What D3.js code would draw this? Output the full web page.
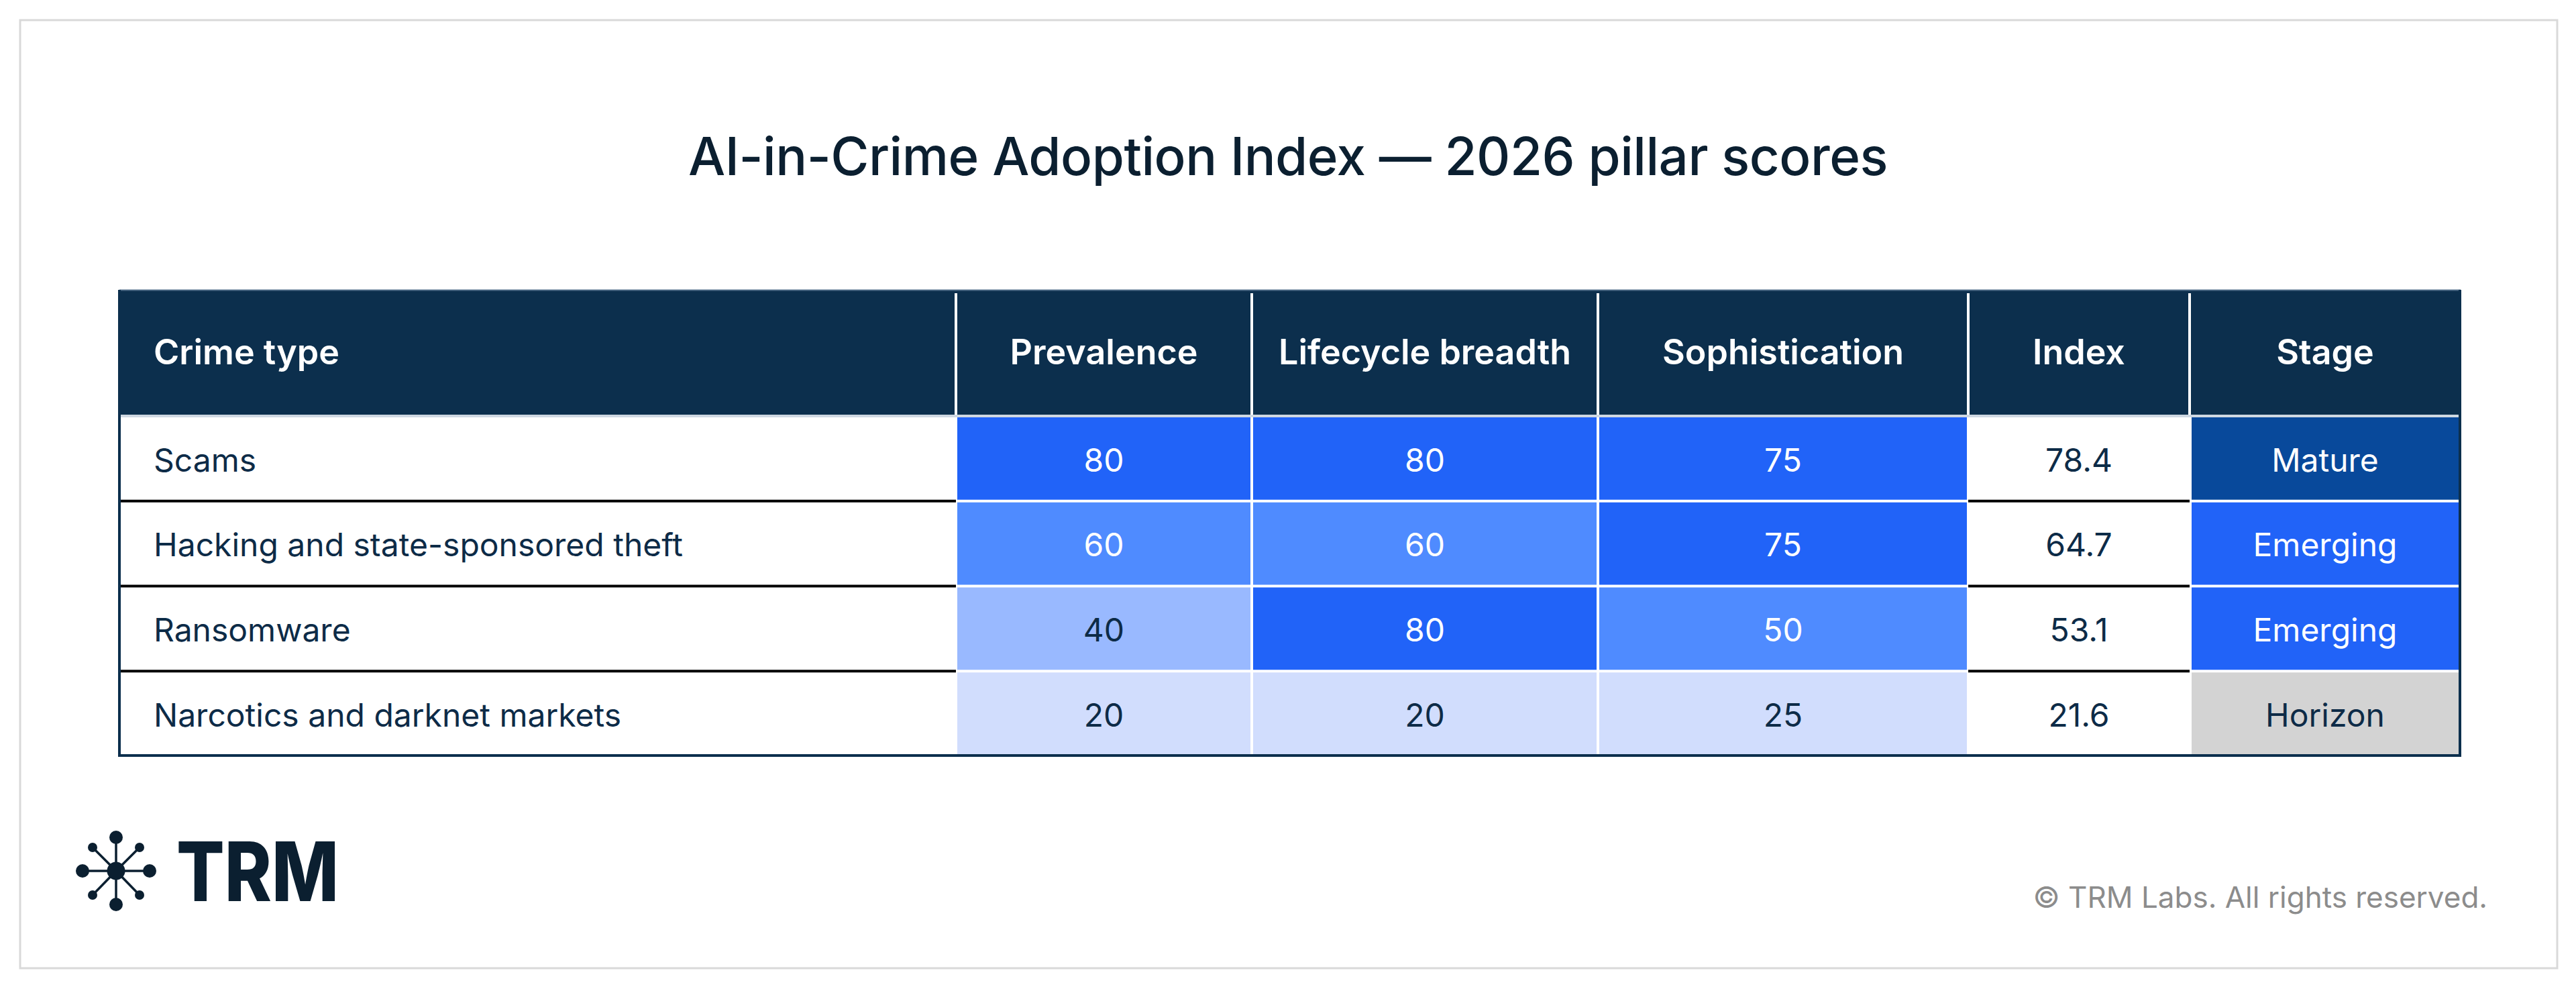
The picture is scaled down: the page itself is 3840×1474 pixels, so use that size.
<!DOCTYPE html>
<html>
<head>
<meta charset="utf-8">
<script src="https://cdn.jsdelivr.net/npm/d3@7/dist/d3.min.js"></script>
<style>
  html, body { margin: 0; padding: 0; background: #ffffff; }
  svg { display: block; }
  text { font-family: Inter, "Noto Sans", sans-serif; }
</style>
</head>
<body>
<svg id="chart" width="3840" height="1474"></svg>
<script>
// ---------------- DATA ----------------
const columns = ["Crime type", "Prevalence", "Lifecycle breadth", "Sophistication", "Index", "Stage"];
const crimeTypes = ["Scams", "Hacking and state-sponsored theft", "Ransomware", "Narcotics and darknet markets"];
const prevalence = [80, 60, 40, 20];
const lifecycleBreadth = [80, 60, 80, 20];
const sophistication = [75, 75, 50, 25];
const indexScores = [78.4, 64.7, 53.1, 21.6];
const stages = ["Mature", "Emerging", "Emerging", "Horizon"];
const stageNames = ["Mature", "Emerging", "Horizon"];

// ---------------- LAYOUT / STYLE ----------------
const W = 3840, H = 1474;
const navy = "#0c2f4d";
const textNavy = "#0d2b47";
const colEdges = [178, 1425, 1866, 2382, 2934, 3264, 3668];
const tableTop = 432, headerBottom = 620, tableBottom = 1127;

const svg = d3.select("#chart");

// outer frame
svg.append("rect")
  .attr("x", 30).attr("y", 30).attr("width", 3782).attr("height", 1413)
  .attr("fill", "#ffffff").attr("stroke", "#d9d9d9").attr("stroke-width", 3);

// title
svg.append("text")
  .attr("x", W / 2).attr("y", 261)
  .attr("text-anchor", "middle")
  .attr("font-size", 78).attr("font-weight", 500)
  .attr("fill", "#0b1f30")
  .attr("letter-spacing", -0.5)
  .text("AI-in-Crime Adoption Index — 2026 pillar scores");

// scales
const yRow = d3.scaleBand().domain(crimeTypes).range([headerBottom, tableBottom]).padding(0);
const heatColor = d3.scaleThreshold().domain([30, 50, 70])
  .range(["#d1ddfd", "#99b9ff", "#4f8bff", "#2163f8"]);
const heatText = d3.scaleThreshold().domain([50]).range([textNavy, "#ffffff"]);
const stageColor = d3.scaleOrdinal().domain(stageNames).range(["#08499b", "#2163f8", "#d3d3d3"]);
const stageText = d3.scaleOrdinal().domain(stageNames).range(["#ffffff", "#ffffff", textNavy]);

const colX = i => colEdges[i];
const colW = i => colEdges[i + 1] - colEdges[i];
const colMid = i => (colEdges[i] + colEdges[i + 1]) / 2;

// header
const g = svg.append("g");
g.append("rect")
  .attr("x", colEdges[0]).attr("y", tableTop)
  .attr("width", colEdges[6] - colEdges[0]).attr("height", headerBottom - tableTop)
  .attr("fill", navy);
g.append("line")
  .attr("x1", colEdges[0]).attr("x2", colEdges[6])
  .attr("y1", tableTop + 0.5).attr("y2", tableTop + 0.5)
  .attr("stroke", "#4d6a85").attr("stroke-width", 2);

// header separators
g.selectAll(".hsep").data(colEdges.slice(1, 6)).join("line")
  .attr("x1", d => d).attr("x2", d => d)
  .attr("y1", tableTop + 5).attr("y2", headerBottom - 2)
  .attr("stroke", "#ffffff").attr("stroke-width", 4);

g.selectAll(".htext").data(columns).join("text")
  .attr("x", (d, i) => i === 0 ? colEdges[0] + 51 : colMid(i))
  .attr("y", (tableTop + headerBottom) / 2 - 2)
  .attr("dy", "0.36em")
  .attr("text-anchor", (d, i) => i === 0 ? "start" : "middle")
  .attr("font-size", 52).attr("font-weight", 600)
  .attr("fill", "#ffffff")
  .text(d => d);

// header/body divider
g.append("line")
  .attr("x1", colEdges[0]).attr("x2", colEdges[6])
  .attr("y1", headerBottom).attr("y2", headerBottom)
  .attr("stroke", "#cfd8e2").attr("stroke-width", 4);

// body rows
const rows = crimeTypes.map((c, i) => ({
  crime: c,
  cells: [prevalence[i], lifecycleBreadth[i], sophistication[i]],
  index: indexScores[i],
  stage: stages[i]
}));

const rowG = g.selectAll(".row").data(rows).join("g")
  .attr("transform", d => `translate(0,${yRow(d.crime)})`);
const rh = yRow.bandwidth();
const bodySize = 48;

// crime type label
rowG.append("text")
  .attr("x", colEdges[0] + 51).attr("y", rh / 2 + 2).attr("dy", "0.36em")
  .attr("font-size", bodySize).attr("fill", textNavy)
  .text(d => d.crime);

// heat cells
rowG.each(function(d) {
  const sel = d3.select(this);
  d.cells.forEach((v, j) => {
    const ci = j + 1;
    sel.append("rect")
      .attr("x", colX(ci) + 2).attr("y", 2)
      .attr("width", colW(ci) - 4).attr("height", rh - 4)
      .attr("fill", heatColor(v));
    sel.append("text")
      .attr("x", colMid(ci)).attr("y", rh / 2 + 2).attr("dy", "0.36em")
      .attr("text-anchor", "middle")
      .attr("font-size", bodySize).attr("fill", heatText(v))
      .text(v);
  });
  // index
  sel.append("text")
    .attr("x", colMid(4)).attr("y", rh / 2 + 2).attr("dy", "0.36em")
    .attr("text-anchor", "middle")
    .attr("font-size", bodySize).attr("fill", textNavy)
    .text(d3.format(".1f")(d.index));
  // stage
  sel.append("rect")
    .attr("x", colX(5) + 3).attr("y", 2)
    .attr("width", colW(5) - 5).attr("height", rh - 4)
    .attr("fill", stageColor(d.stage));
  sel.append("text")
    .attr("x", colMid(5)).attr("y", rh / 2 + 2).attr("dy", "0.36em")
    .attr("text-anchor", "middle")
    .attr("font-size", bodySize).attr("fill", stageText(d.stage))
    .text(d.stage);
});

// black row separators in label & index columns
const seps = crimeTypes.slice(1).map(c => yRow(c));
[[0, 1], [4, 5]].forEach(([a, b]) => {
  g.selectAll(null).data(seps).join("line")
    .attr("x1", colEdges[a]).attr("x2", colEdges[b])
    .attr("y1", d => d).attr("y2", d => d)
    .attr("stroke", "#000000").attr("stroke-width", 4);
});

// outer table border (left, right, bottom)
g.append("path")
  .attr("d", `M${colEdges[0]},${tableTop} V${tableBottom - 1} H${colEdges[6] - 1} V${tableTop}`)
  .attr("fill", "none").attr("stroke", navy).attr("stroke-width", 4);

// ---------------- LOGO ----------------
const logo = svg.append("g").attr("fill", "#0b1f30").attr("stroke", "#0b1f30");
const cx = 173, cy = 1298;
const nodes = [
  [0, -50, 10], [0, 50, 10], [-50, 0, 10], [50, 0, 10],
  [-35, -35, 7], [35, -35, 7], [-35, 36, 7], [35, 36, 7]
];
nodes.forEach(([dx, dy, r]) => {
  logo.append("line").attr("x1", cx).attr("y1", cy).attr("x2", cx + dx).attr("y2", cy + dy)
    .attr("stroke-width", 3.5);
  logo.append("circle").attr("cx", cx + dx).attr("cy", cy + dy).attr("r", r).attr("stroke", "none");
});
logo.append("circle").attr("cx", cx).attr("cy", cy).attr("r", 13.5).attr("stroke", "none");
svg.append("text")
  .attr("x", 263).attr("y", 1343)
  .attr("font-size", 122).attr("font-weight", 800)
  .attr("textLength", 242).attr("lengthAdjust", "spacingAndGlyphs")
  .attr("fill", "#0b1f30")
  .text("TRM");

// copyright
svg.append("text")
  .attr("x", 3708).attr("y", 1353)
  .attr("text-anchor", "end")
  .attr("font-size", 44).attr("fill", "#8c8c8c")
  .text("© TRM Labs. All rights reserved.");
</script>
</body>
</html>
